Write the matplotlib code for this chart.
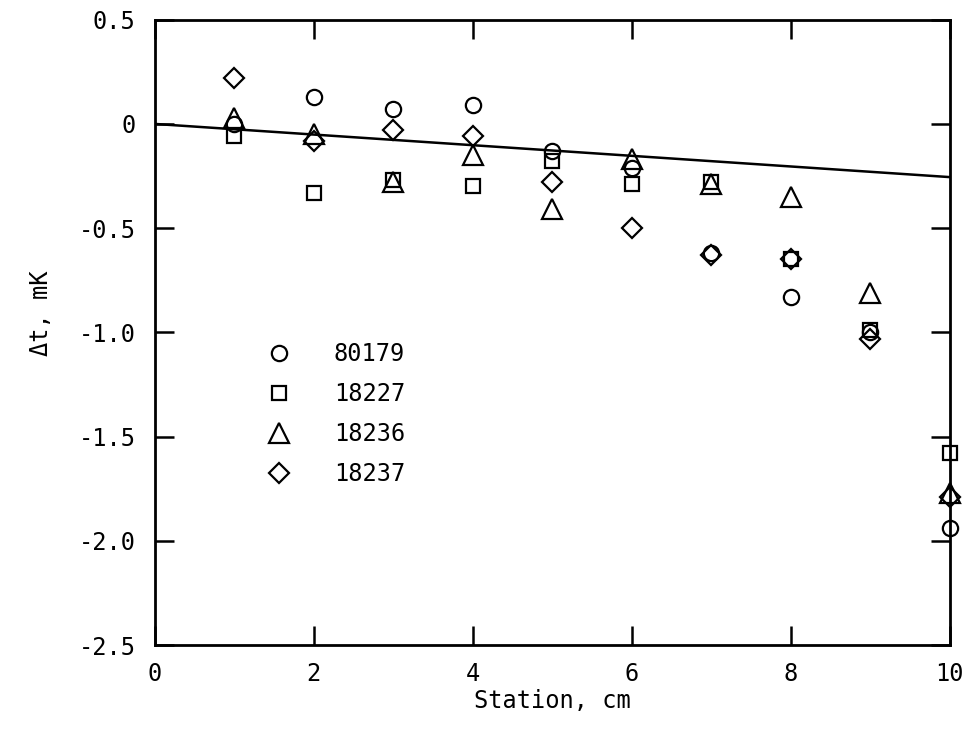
import matplotlib

matplotlib.use("Agg")
import matplotlib.pyplot as plt
import numpy as np

STATIONS = [1, 2, 3, 4, 5, 6, 7, 8, 9, 10]

SERIES = {
    "80179": [0.00, 0.13, 0.07, 0.09, -0.13, -0.21, -0.62, -0.83, -1.00, -1.94],
    "18227": [-0.06, -0.33, -0.27, -0.30, -0.18, -0.29, -0.28, -0.65, -0.99, -1.58],
    "18236": [0.03, -0.05, -0.28, -0.15, -0.41, -0.17, -0.29, -0.35, -0.81, -1.77],
    "18237": [0.22, -0.08, -0.03, -0.06, -0.28, -0.50, -0.63, -0.65, -1.03, -1.79],
}

MARKERS = {"80179": "o", "18227": "s", "18236": "^", "18237": "D"}
SIZES = {"80179": 11, "18227": 10, "18236": 14, "18237": 10}

# fitted line: end points
LINE_X = [0, 10]
LINE_Y = [0.0, -0.255]

X_TICKS = [0, 2, 4, 6, 8, 10]
Y_TICKS = [0.5, 0, -0.5, -1.0, -1.5, -2.0, -2.5]
Y_LABELS = ["0.5", "0", "-0.5", "-1.0", "-1.5", "-2.0", "-2.5"]

FONT = "DejaVu Sans Mono"


def main() -> None:
    plt.rcParams.update({"font.family": FONT, "font.size": 17})
    fig = plt.figure(figsize=(9.68, 7.29), dpi=100)
    ax = fig.add_axes([0.160, 0.115, 0.821, 0.858])

    ax.plot(LINE_X, LINE_Y, color="black", linewidth=1.8)

    for name, values in SERIES.items():
        ax.plot(
            STATIONS, values, linestyle="none", marker=MARKERS[name],
            markersize=SIZES[name], markerfacecolor="none",
            markeredgecolor="black", markeredgewidth=1.6, label=name,
            clip_on=False, zorder=3,
        )

    ax.set_xlim(0, 10)
    ax.set_ylim(-2.5, 0.5)
    ax.set_xticks(X_TICKS)
    ax.set_xticklabels([str(t) for t in X_TICKS])
    ax.set_yticks(Y_TICKS)
    ax.set_yticklabels(Y_LABELS)
    ax.tick_params(direction="in", length=14, width=1.8, top=True, right=True,
                   labelsize=17)
    ax.tick_params(axis="y", pad=14)
    ax.tick_params(axis="x", pad=12)
    for spine in ax.spines.values():
        spine.set_linewidth(2.0)

    ax.set_xlabel("Station, cm", fontsize=17, labelpad=2)
    ax.set_ylabel("\u0394t, mK", fontsize=17)
    ax.yaxis.set_label_coords(-0.128, 0.53)

    ax.legend(
        loc="upper left", bbox_to_anchor=(0.115, 0.50), frameon=False,
        fontsize=17, handletextpad=1.3, labelspacing=0.68, borderaxespad=0,
    )

    fig.savefig("out.png", dpi=100)


if __name__ == "__main__":
    main()
